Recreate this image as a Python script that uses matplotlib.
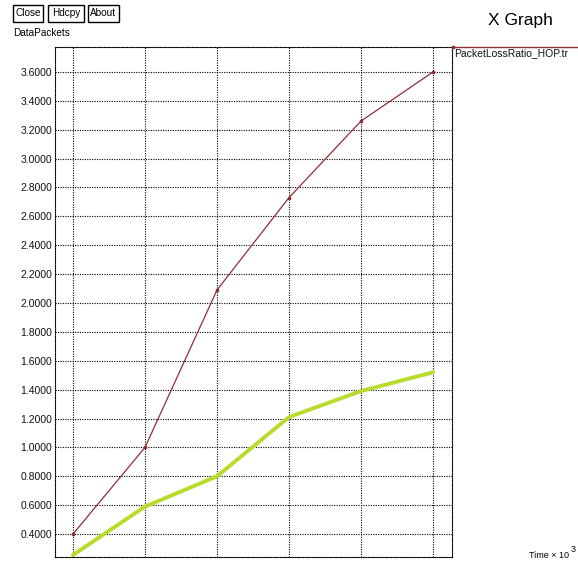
import matplotlib
matplotlib.use("Agg")
import matplotlib.pyplot as plt
from matplotlib.lines import Line2D
from matplotlib.patches import Rectangle

plt.rcParams['font.family'] = ['Liberation Sans', 'DejaVu Sans']

# Simulation time (x 10^3) and measured series
time = [1, 2, 3, 4, 5, 6]
loss_ratio_hop = [0.40, 1.00, 2.09, 2.73, 3.26, 3.60]
second_series = [0.255, 0.59, 0.80, 1.21, 1.39, 1.52]
y_ticks = [0.4, 0.6, 0.8, 1.0, 1.2, 1.4, 1.6, 1.8, 2.0, 2.2, 2.4, 2.6,
           2.8, 3.0, 3.2, 3.4, 3.6]
legend_label = "PacketLossRatio_HOP.tr"
buttons = ["Close", "Hdcpy", "About"]

W, H = 578, 563
fig = plt.figure(figsize=(W / 100, H / 100), dpi=100)
fig.patch.set_facecolor("white")

def fx(px):
    return px / W

def fy(py):
    return 1 - py / H

left, right, top, bottom = 55, 452, 47, 557
ax = fig.add_axes([fx(left), fy(bottom), fx(right - left), (bottom - top) / H])

red = "#8e2f36"
green = "#b8dc2c"

ax.plot(time, second_series, color=green, lw=2.8, solid_capstyle="round", zorder=3)
ax.plot(time, loss_ratio_hop, color=red, lw=0.9, marker="s", ms=2.0,
        markerfacecolor=red, markeredgecolor=red, zorder=4)

ax.set_xlim(0.75, 6.264)
ax.set_ylim(0.241, 3.773)
ax.set_xticks(time)
ax.set_xticklabels([])
ax.set_yticks(y_ticks)
ax.set_yticklabels([f"{v:.4f}" for v in y_ticks], fontsize=7.5, color="#111111")
ax.tick_params(axis="both", length=0, pad=2)
ax.grid(True, color="black", linestyle=(0, (1, 1.2)), lw=0.8)
for s in ax.spines.values():
    s.set_linestyle((0, (1, 1.2)))
    s.set_linewidth(0.8)
    s.set_color("black")

# Legend entry drawn along the top-right, outside the plotting box
fig.add_artist(Line2D([fx(452), fx(578)], [fy(47), fy(47)], color=red, lw=1.0))
fig.add_artist(Line2D([fx(453)], [fy(47)], color=red, marker="s", ms=2.0, lw=0))
fig.text(fx(454), fy(53), legend_label, fontsize=7.5, ha="left", va="center",
         color="#111111")

# Window header
fig.text(fx(488), fy(20), "X Graph", fontsize=12.5, ha="left", va="center")
bx = [(13, 43), (48, 84), (88, 119)]
for (x0, x1), name in zip(bx, buttons):
    fig.add_artist(Rectangle((fx(x0), fy(22)), fx(x1 - x0), (22 - 5) / H,
                             fill=False, edgecolor="black", lw=1.0))
    fig.text(fx((x0 + x1) / 2), fy(13.5), name, fontsize=7.2, ha="center",
             va="center")
fig.text(fx(13), fy(33), "DataPackets", fontsize=7.2, ha="left", va="center")

# Axis unit label at the lower right
fig.text(fx(529), fy(556), "Time \u00d7 10", fontsize=6.5, ha="left", va="center")
fig.text(fx(570.5), fy(550), "3", fontsize=6.5, ha="left", va="center")

fig.savefig("out.png", dpi=100)
